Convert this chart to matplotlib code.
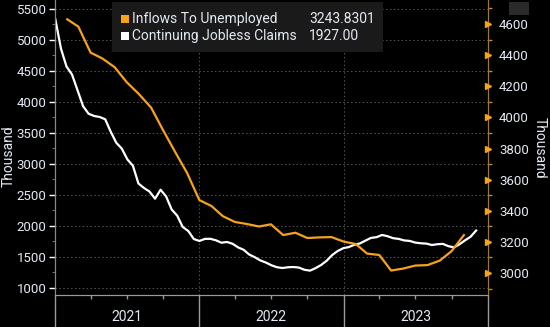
import numpy as np
import matplotlib
matplotlib.use('Agg')
import matplotlib.pyplot as plt
import matplotlib.dates as mdates
import matplotlib.ticker as mticker
import pandas as pd
from matplotlib.patches import Rectangle

# continuing jobless claims (thousand), roughly every two weeks
claims_dates = pd.date_range('2021-01-02', periods=77, freq='14D')
claims = [5330, 4863, 4573, 4443, 4189, 3932, 3810, 3774, 3758, 3721,
          3519, 3342, 3247, 3074, 2972, 2685, 2613, 2555, 2440, 2585,
          2476, 2266, 2167, 1984, 1919, 1790, 1758, 1792, 1793, 1769,
          1730, 1742, 1713, 1655, 1616, 1540, 1497, 1445, 1411, 1367,
          1335, 1322, 1334, 1338, 1329, 1293, 1280, 1320, 1371, 1440,
          1532, 1597, 1642, 1660, 1697, 1718, 1764, 1808, 1819, 1855,
          1835, 1803, 1792, 1767, 1759, 1732, 1721, 1716, 1693, 1706,
          1711, 1674, 1655, 1705, 1769, 1827, 1927]

# inflows to unemployed (thousand), monthly
inflow_dates = pd.date_range('2021-02-01', periods=34, freq='MS')
inflows = [4630, 4583, 4416, 4378, 4322, 4227, 4150, 4063, 3919, 3777,
           3643, 3469, 3430, 3366, 3328, 3315, 3299, 3313, 3244, 3259,
           3225, 3229, 3231, 3202, 3186, 3125, 3116, 3016, 3029, 3048,
           3051, 3080, 3141, 3243.8301]

years = [2021, 2022, 2023]

orange = '#f7a21b'
txt = '#e4eaf4'
bg = '#000000'

plt.rcParams['font.family'] = ['Roboto', 'DejaVu Sans']

fig = plt.figure(figsize=(5.5, 3.27), dpi=100, facecolor=bg)
ax = fig.add_axes([0.1, 0.0979, 0.7873, 0.9021])
ax.set_facecolor(bg)
ax2 = ax.twinx()

ax.plot(claims_dates, claims, color='white', lw=1.6, zorder=3)
ax2.plot(inflow_dates, inflows, color=orange, lw=1.6, zorder=3)

ax.set_xlim(pd.Timestamp('2021-01-01'), pd.Timestamp('2024-01-01'))
ax.set_ylim(887, 5645)
ax2.set_ylim(2859, 4754)

# left axis
ax.yaxis.set_major_locator(mticker.MultipleLocator(500))
ax.yaxis.set_minor_locator(mticker.MultipleLocator(250))
ax.tick_params(axis='y', which='major', colors='white', labelcolor=txt,
               labelsize=9.5, length=4, width=1, pad=2)
ax.tick_params(axis='y', which='minor', colors='#888888', length=2)
ax.set_ylabel('Thousand', color=txt, fontsize=10, va='center')
ax.yaxis.set_label_coords(-0.106, 0.47)
ax.grid(axis='y', which='major', color='#555555', ls=(0, (1.5, 2.5)), lw=0.7)

# x axis: long ticks at year starts, short ones at quarters
ax.xaxis.set_major_locator(mdates.YearLocator())
ax.xaxis.set_minor_locator(mdates.MonthLocator(bymonth=[4, 7, 10]))
ax.xaxis.set_major_formatter(mticker.NullFormatter())
ax.tick_params(axis='x', which='major', colors='#9a9a9a', length=36, width=1)
ax.tick_params(axis='x', which='minor', colors='#9a9a9a', length=3, width=1)
ax.grid(axis='x', which='major', color='#555555', ls=(0, (1.5, 2.5)), lw=0.7)
for y in years:
    ax.text(pd.Timestamp(f'{y}-07-02'), -0.075, str(y), transform=ax.get_xaxis_transform(),
            ha='center', va='center', color=txt, fontsize=10)

# right axis
ax2.yaxis.set_major_locator(mticker.MultipleLocator(200))
ax2.yaxis.set_minor_locator(mticker.MultipleLocator(100))
ax2.tick_params(axis='y', which='major', colors=orange, labelcolor=txt,
                labelsize=9.5, length=0, pad=8)
ax2.tick_params(axis='y', which='minor', colors='#b8892e', length=3, width=1)
ax2.set_ylabel('Thousand', color=txt, fontsize=10, rotation=270, va='center')
ax2.yaxis.set_label_coords(1.12, 0.5)
for v in ax2.get_yticks():
    if 2859 < v < 4754:
        ax2.plot(1.0, v, marker='>', ms=3.8, color=orange, transform=ax2.get_yaxis_transform(),
                 clip_on=False, zorder=5)

for a in (ax, ax2):
    a.spines['top'].set_visible(False)
    a.spines['left'].set_color('#8a8a8a')
    a.spines['bottom'].set_color('#9a9a9a')
    a.spines['right'].set_color('#9c7a2c')

# legend box drawn by hand
fig.patches.append(Rectangle((112 / 550, 1 - 52 / 327), 271 / 550, 50 / 327,
                             transform=fig.transFigure, facecolor='#1a1a1a',
                             edgecolor='none', zorder=1))
rows = [(orange, 'Inflows To Unemployed', '3243.8301', 19),
        ('white', 'Continuing Jobless Claims', '1927.00', 36)]
for col, name, val, yy in rows:
    fig.patches.append(Rectangle((121 / 550, 1 - (yy + 4) / 327), 8 / 550, 8 / 327,
                                 transform=fig.transFigure, facecolor=col,
                                 edgecolor='none', zorder=2))
    fig.text(132 / 550, 1 - yy / 327, name, color=txt, fontsize=10, va='center', ha='left')
    fig.text(309 / 550, 1 - yy / 327, val, color=txt, fontsize=10, va='center', ha='left')

# small chart icon top right
fig.patches.append(Rectangle((509 / 550, 1 - 15 / 327), 20 / 550, 13 / 327,
                             transform=fig.transFigure, facecolor='#2a2a2a',
                             edgecolor='none', zorder=2))

fig.savefig('out.png', dpi=100, facecolor=bg)
